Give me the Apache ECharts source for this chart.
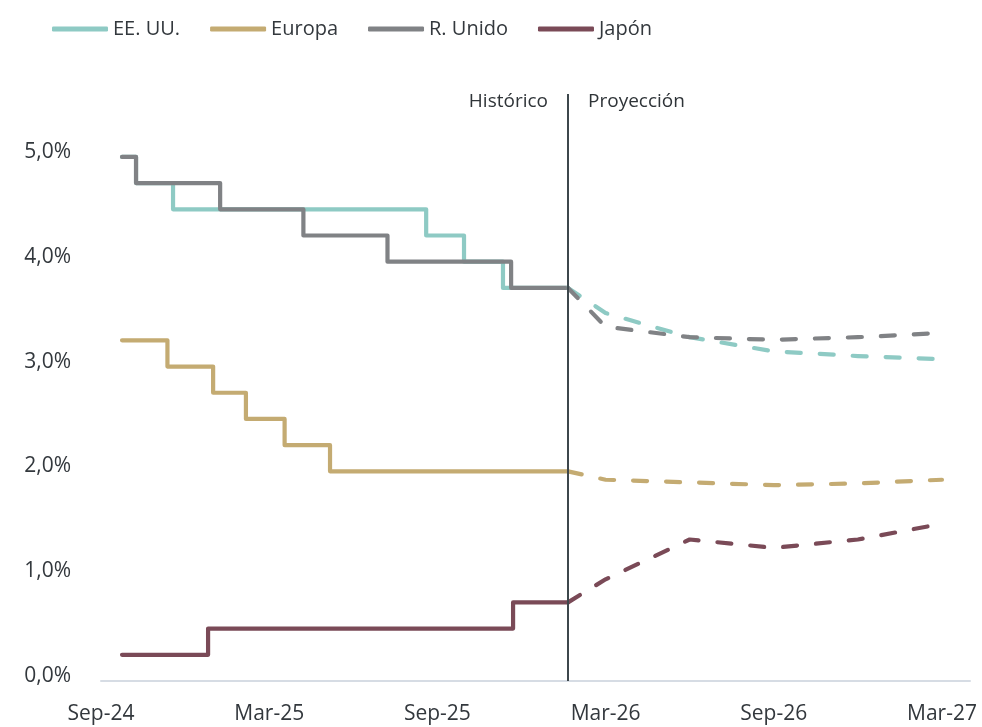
<!DOCTYPE html>
<html>
<head>
<meta charset="utf-8">
<title>Tipos de interés oficiales</title>
<script src="https://cdn.jsdelivr.net/npm/echarts@6/dist/echarts.min.js"></script>
<style>
  html, body { margin: 0; padding: 0; background: #ffffff; }
  #chart { width: 982px; height: 727px; }
</style>
</head>
<body>
<div id="chart"></div>
<script>
// x values are months counted from Sep-24 (0 = Sep-24, 6 = Mar-25, ...)
const tickLabels = ['Sep-24', 'Mar-25', 'Sep-25', 'Mar-26', 'Sep-26', 'Mar-27'];
const divider = 16.66; // last historical observation

// Historical policy rates (%): [month, new level]
const usHist    = [[0.75, 5.00], [1.25, 4.75], [2.57, 4.50], [11.60, 4.25], [12.95, 4.00], [14.34, 3.75], [16.66, 3.75]];
const euHist    = [[0.75, 3.25], [2.37, 3.00], [4.00, 2.75], [5.17, 2.50], [6.55, 2.25], [8.17, 2.00], [16.66, 2.00]];
const ukHist    = [[0.75, 5.00], [1.25, 4.75], [4.25, 4.50], [7.22, 4.25], [10.22, 4.00], [14.63, 3.75], [16.66, 3.75]];
const jpHist    = [[0.75, 0.25], [3.82, 0.50], [14.70, 0.75], [16.66, 0.75]];

// Market-implied path (%)
const projMonths = [16.66, 18, 21, 24, 27, 30];
const usProj = [3.75, 3.51, 3.28, 3.145, 3.10, 3.07];
const euProj = [2.00, 1.92, 1.895, 1.868, 1.885, 1.92];
const ukProj = [3.75, 3.38, 3.28, 3.255, 3.28, 3.32];
const jpProj = [0.75, 0.97, 1.35, 1.27, 1.35, 1.50];

const names  = ['EE. UU.', 'Europa', 'R. Unido', 'Japón'];
const colors = ['#8ecac4', '#c4ab72', '#808285', '#7a4a57'];
const hist = [usHist, euHist, ukHist, jpHist];
const proj = [usProj, euProj, ukProj, jpProj];

const FONT = '"Open Sans", "Noto Sans", sans-serif';
const TEXT = '#33383d';

const series = [];
names.forEach((n, i) => {
  series.push({
    name: n, type: 'line', step: 'end', data: hist[i],
    showSymbol: false, symbol: 'none', z: 3,
    lineStyle: { color: colors[i], width: 4.2, cap: 'round', join: 'round' },
    itemStyle: { color: colors[i] },
    emphasis: { disabled: true }
  });
});
names.forEach((n, i) => {
  series.push({
    name: n, type: 'line', data: projMonths.map((m, k) => [m, proj[i][k]]),
    showSymbol: false, symbol: 'none', z: 3,
    lineStyle: { color: colors[i], width: 4.2, type: [14, 19], cap: 'round', join: 'round' },
    itemStyle: { color: colors[i] },
    emphasis: { disabled: true }
  });
});

// Divider between history and projection, with its two captions
series.push({
  name: 'divisor', type: 'line', data: [], silent: true,
  markLine: {
    symbol: ['none', 'none'], silent: true, animation: false,
    label: { show: false },
    lineStyle: { color: '#3d474c', width: 2, type: 'solid', opacity: 1 },
    emphasis: { disabled: true },
    data: [[{ coord: [divider, 0] }, { coord: [divider, 5.6] }]]
  }
});
const captionStyle = { show: true, color: '#2f3438', fontFamily: FONT, fontSize: 19, opacity: 1, textBorderWidth: 0, distance: 20 };
series.push({
  name: 'etiquetas', type: 'scatter', symbolSize: 0, silent: true,
  emphasis: { disabled: true },
  data: [
    { value: [divider, 5.53], label: Object.assign({}, captionStyle, { formatter: 'Histórico', position: 'left' }) },
    { value: [divider, 5.53], label: Object.assign({}, captionStyle, { formatter: 'Proyección', position: 'right' }) }
  ],
  label: captionStyle
});

const chart = echarts.init(document.getElementById('chart'), null, { renderer: 'canvas' });
chart.setOption({
  animation: false,
  backgroundColor: '#ffffff',
  color: colors,
  legend: {
    data: names, left: 47, top: 14, itemGap: 30,
    icon: 'roundRect', itemWidth: 56, itemHeight: 5,
    textStyle: { color: TEXT, fontFamily: FONT, fontSize: 20 },
    selectedMode: false
  },
  grid: { left: 101, right: 12, top: 94, bottom: 46, containLabel: false },
  xAxis: {
    type: 'value', min: 0, max: 31, interval: 6,
    axisLine: { show: true, lineStyle: { color: '#d6dce4', width: 2 } },
    axisTick: { show: false },
    splitLine: { show: false },
    axisLabel: {
      color: TEXT, fontFamily: FONT, fontSize: 21, margin: 23,
      showMaxLabel: false,
      formatter: v => (v % 6 === 0 ? tickLabels[v / 6] : '')
    }
  },
  yAxis: {
    type: 'value', min: 0, max: 5.6, interval: 1,
    axisLine: { show: false }, axisTick: { show: false }, splitLine: { show: false },
    axisLabel: {
      color: TEXT, fontFamily: FONT, fontSize: 21, margin: 30,
      showMaxLabel: false, verticalAlign: 'bottom', lineHeight: 10,
      formatter: v => v.toFixed(1).replace('.', ',') + '%'
    }
  },
  series: series
});
</script>
</body>
</html>
